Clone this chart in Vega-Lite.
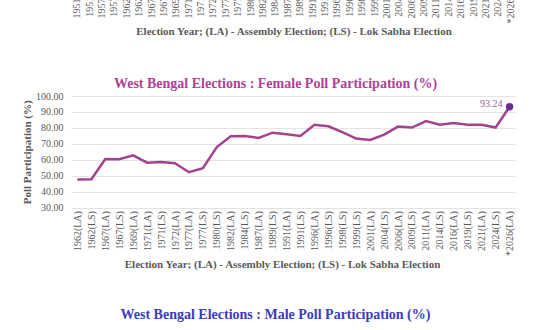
{
  "$schema": "https://vega.github.io/schema/vega-lite/v6.json",
  "background": "white",
  "padding": {"left": 21, "top": -29, "right": 0, "bottom": 0},
  "spacing": 121,
  "bounds": "flush",
  "config": {
    "font": "Liberation Serif",
    "view": {"stroke": null},
    "axis": {
      "labelFont": "Liberation Serif",
      "titleFont": "Liberation Serif",
      "labelColor": "#595959",
      "titleColor": "#595959",
      "labelFontSize": 10,
      "titleFontSize": 11,
      "titleFontWeight": "bold",
      "domain": false,
      "ticks": false,
      "gridColor": "#e3e3e3"
    },
    "title": {"font": "Liberation Serif", "fontSize": 14, "fontWeight": "bold"}
  },
  "vconcat": [
    {
      "width": 445,
      "height": 1,
      "data": {"values": [
        {"yr": "1951(LA)"}, {"yr": "1951(LS)"}, {"yr": "1957(LA)"}, {"yr": "1957(LS)"},
        {"yr": "1962(LA)"}, {"yr": "1962(LS)"}, {"yr": "1967(LA)"}, {"yr": "1967(LS)"},
        {"yr": "1969(LA)"}, {"yr": "1971(LA)"}, {"yr": "1971(LS)"}, {"yr": "1972(LA)"},
        {"yr": "1977(LA)"}, {"yr": "1977(LS)"}, {"yr": "1980(LS)"}, {"yr": "1982(LA)"},
        {"yr": "1984(LS)"}, {"yr": "1987(LA)"}, {"yr": "1989(LS)"}, {"yr": "1991(LA)"},
        {"yr": "1991(LS)"}, {"yr": "1996(LA)"}, {"yr": "1996(LS)"}, {"yr": "1998(LS)"},
        {"yr": "1999(LS)"}, {"yr": "2001(LA)"}, {"yr": "2004(LS)"}, {"yr": "2006(LA)"},
        {"yr": "2009(LS)"}, {"yr": "2011(LA)"}, {"yr": "2014(LS)"}, {"yr": "2016(LA)"},
        {"yr": "2019(LS)"}, {"yr": "2021(LA)"}, {"yr": "2024(LS)"}, {"yr": "*2026(LA)"}
      ]},
      "mark": {"type": "point", "opacity": 0},
      "encoding": {
        "x": {
          "field": "yr", "type": "ordinal", "sort": null,
          "scale": {"type": "point", "padding": 0.46},
          "axis": {"labelAngle": -90, "labelPadding": 3, "title": "Election Year; (LA) - Assembly Election; (LS) - Lok Sabha Election", "titlePadding": 3}
        }
      }
    },
    {
      "width": 445,
      "height": 111.6,
      "title": {"text": "West Bengal Elections : Female Poll Participation (%)", "color": "#b03f98", "offset": 0, "dx": -18},
      "data": {"values": [
        {"year": "1962(LA)", "v": 47.6}, {"year": "1962(LS)", "v": 47.8},
        {"year": "1967(LA)", "v": 60.5}, {"year": "1967(LS)", "v": 60.3},
        {"year": "1969(LA)", "v": 62.8}, {"year": "1971(LA)", "v": 58.2},
        {"year": "1971(LS)", "v": 58.6}, {"year": "1972(LA)", "v": 57.8},
        {"year": "1977(LA)", "v": 52.2}, {"year": "1977(LS)", "v": 54.7},
        {"year": "1980(LS)", "v": 68.0}, {"year": "1982(LA)", "v": 74.8},
        {"year": "1984(LS)", "v": 74.9}, {"year": "1987(LA)", "v": 73.7},
        {"year": "1989(LS)", "v": 77.0}, {"year": "1991(LA)", "v": 76.0},
        {"year": "1991(LS)", "v": 74.9}, {"year": "1996(LA)", "v": 82.0},
        {"year": "1996(LS)", "v": 81.0}, {"year": "1998(LS)", "v": 77.4},
        {"year": "1999(LS)", "v": 73.3}, {"year": "2001(LA)", "v": 72.4},
        {"year": "2004(LS)", "v": 75.8}, {"year": "2006(LA)", "v": 80.8},
        {"year": "2009(LS)", "v": 80.2}, {"year": "2011(LA)", "v": 84.3},
        {"year": "2014(LS)", "v": 82.0}, {"year": "2016(LA)", "v": 83.1},
        {"year": "2019(LS)", "v": 82.0}, {"year": "2021(LA)", "v": 82.0},
        {"year": "2024(LS)", "v": 80.2}, {"year": "*2026(LA)", "v": 93.24}
      ]},
      "encoding": {
        "x": {
          "field": "year", "type": "ordinal", "sort": null,
          "scale": {"type": "point", "padding": 0.46},
          "axis": {"labelAngle": -90, "labelPadding": 3, "title": "Election Year; (LA) - Assembly Election; (LS) - Lok Sabha Election", "titlePadding": 3, "titleX": 211, "grid": false}
        },
        "y": {
          "field": "v", "type": "quantitative",
          "scale": {"domain": [30, 100], "nice": false, "zero": false},
          "axis": {"values": [30, 40, 50, 60, 70, 80, 90, 100], "format": ".2f", "title": "Poll Participation (%)", "labelPadding": 8, "titlePadding": 3, "grid": true}
        }
      },
      "layer": [
        {"mark": {"type": "line", "color": "#a3438f", "strokeWidth": 2.5}},
        {
          "transform": [{"filter": "datum.year === '*2026(LA)'"}],
          "mark": {"type": "point", "filled": true, "color": "#6b2c91", "size": 55, "opacity": 1}
        },
        {
          "transform": [{"filter": "datum.year === '*2026(LA)'"}],
          "mark": {"type": "text", "align": "right", "dx": -7, "dy": -3, "color": "#9b5a9e", "fontSize": 10},
          "encoding": {"text": {"field": "v", "type": "quantitative", "format": ".2f"}}
        }
      ]
    },
    {
      "width": 445,
      "height": 20,
      "title": {"text": "West Bengal Elections : Male Poll Participation (%)", "color": "#3b3bbf", "offset": 7, "dx": -18},
      "data": {"values": [{"t": ""}]},
      "mark": {"type": "text"},
      "encoding": {"text": {"field": "t"}}
    }
  ]
}
